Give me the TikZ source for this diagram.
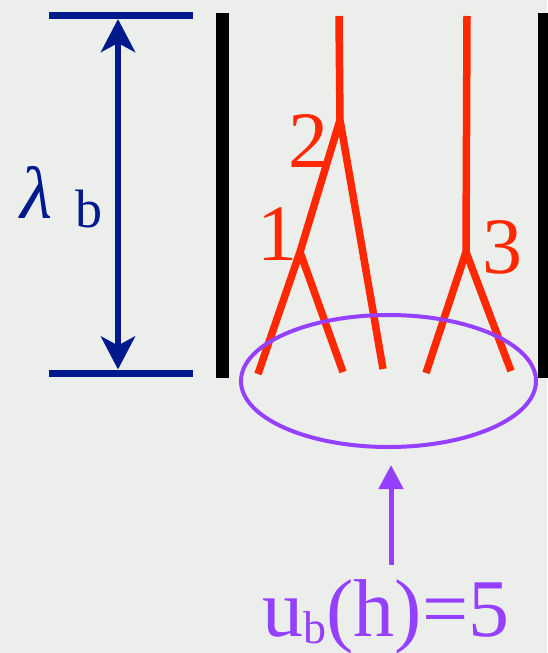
\documentclass[tikz,border=0pt]{standalone}
\usepackage{fontspec}
\setmainfont{Liberation Serif}
\usepackage{xcolor}
\usepackage{tikz}
\usetikzlibrary{arrows.meta,positioning,shapes.geometric}

\definecolor{paper}{RGB}{236,238,235}
\definecolor{navy}{RGB}{0,25,140}
\definecolor{branchred}{RGB}{255,40,0}
\definecolor{ubviolet}{RGB}{150,64,255}

\begin{document}
\begin{tikzpicture}[x=1pt, y=-1pt,
    wall/.style={line width=13pt, black},
    bar/.style={line width=7pt, navy},
    span/.style={line width=6pt, navy, {Stealth[length=33pt, width=34pt, inset=9pt]}-{Stealth[length=33pt, width=34pt, inset=9pt]}, shorten <=3.5pt, shorten >=3.5pt},
    branch/.style={line width=7.5pt, branchred, line join=bevel},
    num/.style={branchred, font=\fontsize{80}{80}\selectfont, inner sep=0pt, anchor=base},
    pool/.style={draw=ubviolet, line width=4pt, ellipse, minimum width=295pt, minimum height=132pt, inner sep=0pt},
    pointer/.style={line width=5pt, ubviolet, -{Triangle[length=24pt, width=24pt]}}
  ]
    \fill[paper] (0,0) rectangle (547,653);
    \useasboundingbox (0,0) rectangle (547,653);

    % walls of the box
    \draw[wall] (222.5,13) -- (222.5,378);
    \draw[wall] (544,13) -- (544,378);

    % lambda_b scale
    \coordinate (ceil) at (118,15.5);
    \coordinate (floor) at (118,373);
    \draw[bar] (49,15.5) -- (193,15.5);
    \draw[bar] (49,373) -- (193,373);
    \draw[span] (ceil) -- (floor);
    \node[navy, font=\fontsize{74}{74}\selectfont\itshape, inner sep=0pt, anchor=base] (lam) at (37,218) {λ};
    \node[navy, font=\fontsize{54}{54}\selectfont, inner sep=0pt, anchor=base] (lamb) at (89,227) {b};

    % branching tree
    \coordinate (top2) at (339,16);
    \coordinate (j2) at (340,120);
    \coordinate (j1) at (300,252);
    \coordinate (top3) at (467,16);
    \coordinate (j3) at (466,252);
    \coordinate (leaf1) at (258,374);
    \coordinate (leaf2) at (343,372);
    \coordinate (leaf3) at (383,369);
    \coordinate (leaf4) at (426,373);
    \coordinate (leaf5) at (511,371);
    \draw[branch] (top2) -- (j2) -- (leaf3);
    \draw[branch] (j2) -- (j1) -- (leaf1);
    \draw[branch] (j1) -- (leaf2);
    \draw[branch] (top3) -- (j3) -- (leaf5);
    \draw[branch] (j3) -- (leaf4);
    \node[num] (n1) at (277,260) {1};
    \node[num] (n2) at (308,167) {2};
    \node[num] (n3) at (502,273) {3};

    % counted leaves
    \node[pool] (pool) at (388.5,381) {};
    \node[ubviolet, font=\fontsize{82}{82}\selectfont, inner sep=0pt, anchor=base] (ub) at (386,636) {u\raisebox{-7pt}{\fontsize{46}{46}\selectfont b}(h)=5};
    \draw[pointer, shorten <=14pt, shorten >=16pt] (ub.north -| 391,0) -- (pool.south -| 391,0);
  \end{tikzpicture}
\end{document}
